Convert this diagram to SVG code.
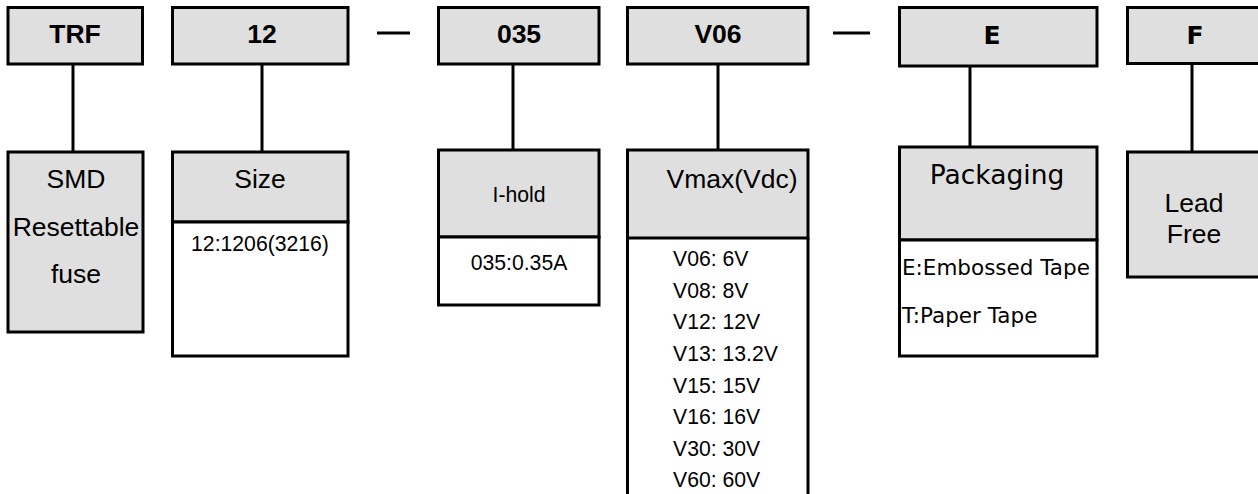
<svg xmlns="http://www.w3.org/2000/svg" width="1258" height="494" viewBox="0 0 1258 494">
  <style>
    .box { fill: #dfdfdf; stroke: #000; stroke-width: 3; }
    .sub { fill: #ffffff; stroke: #000; stroke-width: 3; }
    .wire { stroke: #000; stroke-width: 3; fill: none; }
    .code { font-family: "Liberation Sans", Arial, sans-serif; font-weight: bold; font-size: 26.5px; text-anchor: middle; fill: #000; }
    .codev { font-family: "DejaVu Sans", Verdana, sans-serif; font-weight: bold; font-size: 25px; text-anchor: middle; fill: #000; }
    .lbl { font-family: "Liberation Sans", Arial, sans-serif; font-size: 26.5px; text-anchor: middle; fill: #000; }
    .lblv { font-family: "DejaVu Sans", Verdana, sans-serif; font-size: 26.5px; text-anchor: middle; fill: #000; }
    .val { font-family: "Liberation Sans", Arial, sans-serif; font-size: 21.2px; fill: #000; }
    .valv { font-family: "DejaVu Sans", Verdana, sans-serif; font-size: 21.5px; fill: #000; }
  </style>

  <!-- connectors between code boxes and their descriptions, plus the separator dashes -->
  <g id="connectors">
    <line class="wire" x1="73" y1="64" x2="73" y2="152"/>
    <line class="wire" x1="262" y1="64" x2="262" y2="152"/>
    <line class="wire" x1="513" y1="64" x2="513" y2="150"/>
    <line class="wire" x1="718" y1="64" x2="718" y2="150"/>
    <line class="wire" x1="970" y1="66" x2="970" y2="147"/>
    <line class="wire" x1="1192" y1="64" x2="1192" y2="152"/>
    <line class="wire" x1="377" y1="33" x2="410" y2="33"/>
    <line class="wire" x1="833" y1="33" x2="870" y2="33"/>
  </g>

  <!-- TRF : SMD resettable fuse -->
  <g id="node-trf">
    <rect class="box" x="8" y="7.5" width="134.5" height="56.5"/>
    <text class="code" x="75" y="43">TRF</text>
  </g>
  <g id="node-smd">
    <rect class="box" x="8" y="152" width="135" height="180"/>
    <text class="lbl" x="76" y="188">SMD</text>
    <text class="lbl" x="76" y="236">Resettable</text>
    <text class="lbl" x="76" y="283">fuse</text>
  </g>

  <!-- 12 : size -->
  <g id="node-12">
    <rect class="box" x="172.5" y="7.5" width="175.5" height="56.5"/>
    <text class="code" x="262" y="43">12</text>
  </g>
  <g id="node-size">
    <rect class="box" x="172.5" y="152" width="175.5" height="70"/>
    <rect class="sub" x="172.5" y="222" width="175.5" height="134"/>
    <text class="lbl" x="260" y="188">Size</text>
    <text class="val" x="260" y="251" text-anchor="middle">12:1206(3216)</text>
  </g>

  <!-- 035 : hold current -->
  <g id="node-035">
    <rect class="box" x="438.5" y="7.5" width="160.5" height="56.5"/>
    <text class="code" x="519" y="43">035</text>
  </g>
  <g id="node-ihold">
    <rect class="box" x="438.5" y="150" width="160.5" height="87"/>
    <rect class="sub" x="438.5" y="237" width="160.5" height="68"/>
    <text class="val" x="519" y="202" text-anchor="middle">I-hold</text>
    <text class="val" x="519" y="270" text-anchor="middle">035:0.35A</text>
  </g>

  <!-- V06 : maximum voltage -->
  <g id="node-v06">
    <rect class="box" x="627.5" y="7.5" width="180.5" height="56.5"/>
    <text class="code" x="718" y="43">V06</text>
  </g>
  <g id="node-vmax">
    <rect class="box" x="627.5" y="150" width="180.5" height="88"/>
    <path class="wire" d="M627.5 238 V500 M808 238 V500"/>
    <text class="lbl" x="732" y="188" font-size="27.5">Vmax(Vdc)</text>
    <text class="val" x="673" y="266">V06: 6V</text>
    <text class="val" x="673" y="297.5">V08: 8V</text>
    <text class="val" x="673" y="329">V12: 12V</text>
    <text class="val" x="673" y="360.5">V13: 13.2V</text>
    <text class="val" x="673" y="392.5">V15: 15V</text>
    <text class="val" x="673" y="424">V16: 16V</text>
    <text class="val" x="673" y="455.5">V30: 30V</text>
    <text class="val" x="673" y="487">V60: 60V</text>
  </g>

  <!-- E : packaging -->
  <g id="node-e">
    <rect class="box" x="899.5" y="7.5" width="197.5" height="58.5"/>
    <text class="codev" x="992" y="44">E</text>
  </g>
  <g id="node-packaging">
    <rect class="box" x="899.5" y="147" width="197.5" height="93"/>
    <rect class="sub" x="899.5" y="240" width="197.5" height="116"/>
    <text class="lblv" x="997" y="184">Packaging</text>
    <text class="valv" x="902" y="275">E:Embossed Tape</text>
    <text class="valv" x="902" y="323">T:Paper Tape</text>
  </g>

  <!-- F : lead free -->
  <g id="node-f">
    <rect class="box" x="1127.5" y="7.5" width="140" height="56"/>
    <text class="codev" x="1195" y="44">F</text>
  </g>
  <g id="node-leadfree">
    <rect class="box" x="1127.5" y="152" width="140" height="125"/>
    <text class="lbl" x="1194" y="212" font-size="25.5">Lead</text>
    <text class="lbl" x="1194" y="243" font-size="25.5">Free</text>
  </g>
</svg>
